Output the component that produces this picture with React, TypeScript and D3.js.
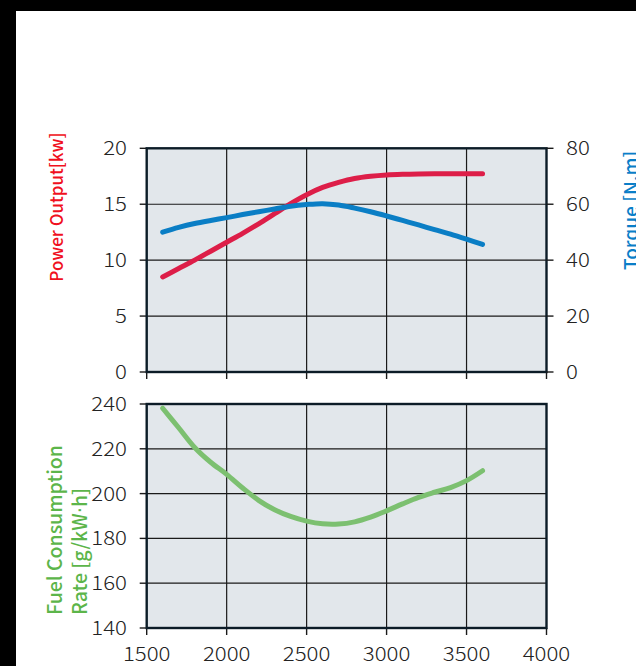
import React from "react";
import * as d3 from "d3";

const rpm = [1600,1700,1800,1900,2000,2100,2200,2300,2400,2500,2600,2700,2800,2900,3000,3100,3200,3300,3400,3500,3600];
const power = [8.5,9.25,10.0,10.8,11.6,12.4,13.25,14.15,15.05,15.85,16.5,16.95,17.3,17.5,17.62,17.68,17.71,17.72,17.72,17.72,17.72];
const torque = [50,51.7,53.1,54.2,55.2,56.3,57.3,58.3,59.3,59.9,60.2,59.7,58.6,57.3,55.8,54.2,52.6,50.9,49.3,47.5,45.6];
const fuel = [238.1,229.4,220.6,214,208.6,202.5,197,192.8,189.8,187.7,186.5,186.4,187.4,189.5,192.3,195.4,198.3,200.6,202.7,205.8,210.2];

const xTicks = [1500,2000,2500,3000,3500,4000];
const powerTicks = [0,5,10,15,20];
const torqueTicks = [0,20,40,60,80];
const fuelTicks = [140,160,180,200,220,240];

const W = 636, H = 666;
const FONT = "'Noto Sans CJK SC', 'Noto Sans', sans-serif";
const GRID = "#1a1a1a";
const BORDER = "#0c1c27";
const FILL = "#e2e7eb";

export default function App() {
  const x = d3.scaleLinear().domain([1500, 4000]).range([146.7, 546.5]);
  const yP = d3.scaleLinear().domain([0, 20]).range([372, 148.3]);
  const yT = d3.scaleLinear().domain([0, 80]).range([372, 148.3]);
  const yF = d3.scaleLinear().domain([140, 240]).range([628, 404]);

  const curve = d3.curveCatmullRom.alpha(0.5);
  const lineP = d3.line<number>().x((_, i) => x(rpm[i])).y((d) => yP(d)).curve(curve);
  const lineT = d3.line<number>().x((_, i) => x(rpm[i])).y((d) => yT(d)).curve(curve);
  const lineF = d3.line<number>().x((_, i) => x(rpm[i])).y((d) => yF(d)).curve(curve);

  const [x0, x1] = x.range();
  const tickText = (t: string, tx: number, ty: number, anchor: string, key: string) => (
    <text key={key} transform={`translate(${tx},${ty}) scale(1.17,1)`} textAnchor={anchor as any}
      fontFamily={FONT} fontSize={19} fontWeight={300} fill="#222">{t}</text>
  );

  const panel = (y: d3.ScaleLinear<number, number>, ticks: number[], key: string) => {
    const [yb, yt] = y.range();
    return (
      <g key={key}>
        <rect x={x0} y={yt} width={x1 - x0} height={yb - yt} fill={FILL} />
        {xTicks.slice(1, -1).map((v) => (
          <line key={"vx" + v} x1={x(v)} x2={x(v)} y1={yt} y2={yb} stroke={GRID} strokeWidth={1.2} />
        ))}
        {ticks.slice(1, -1).map((v) => (
          <line key={"hy" + v} x1={x0} x2={x1} y1={y(v)} y2={y(v)} stroke={GRID} strokeWidth={1.2} />
        ))}
        {ticks.map((v) => (
          <line key={"lt" + v} x1={x0 - 7} x2={x0} y1={y(v)} y2={y(v)} stroke={GRID} strokeWidth={1.4} />
        ))}
        {xTicks.map((v) => (
          <line key={"bt" + v} x1={x(v)} x2={x(v)} y1={yb} y2={yb + 7} stroke={GRID} strokeWidth={1.4} />
        ))}
        <rect x={x0} y={yt} width={x1 - x0} height={yb - yt} fill="none" stroke={BORDER} strokeWidth={2.4} />
      </g>
    );
  };

  return (
    <svg width={W} height={H} style={{ position: "absolute", left: 0, top: 0, background: "#fff" }}>
      <rect x={0} y={0} width={W} height={11} fill="#000" />
      <rect x={0} y={0} width={16} height={H} fill="#000" />

      {panel(yP, powerTicks, "top")}
      {torqueTicks.map((v) => (
        <line key={"rt" + v} x1={x1} x2={x1 + 7} y1={yT(v)} y2={yT(v)} stroke={GRID} strokeWidth={1.4} />
      ))}
      {panel(yF, fuelTicks, "bottom")}

      <path d={lineP(power) || ""} fill="none" stroke="#dd1e48" strokeWidth={5} strokeLinecap="round" />
      <path d={lineT(torque) || ""} fill="none" stroke="#0a7ec5" strokeWidth={5} strokeLinecap="round" />
      <path d={lineF(fuel) || ""} fill="none" stroke="#7cc070" strokeWidth={5} strokeLinecap="round" />

      {powerTicks.map((v) => tickText(String(v), 127, yP(v) + 7, "end", "pl" + v))}
      {torqueTicks.map((v) => tickText(String(v), 566, yT(v) + 7, "start", "tl" + v))}
      {fuelTicks.map((v) => tickText(String(v), 127, yF(v) + 7, "end", "fl" + v))}
      {xTicks.map((v) => tickText(String(v), x(v), 661, "middle", "xl" + v))}

      <text transform="translate(63,207) rotate(-90)" textAnchor="middle" fontFamily={FONT}
        fontSize={17} fontWeight={500} fill="#f01020">Power Output[kw]</text>
      <text transform="translate(638,270) rotate(-90)" textAnchor="start" fontFamily={FONT}
        fontSize={19} fontWeight={500} fill="#0a7ec8">Torque [N.m]</text>
      <text transform="translate(62,615) rotate(-90)" textAnchor="start" fontFamily={FONT}
        fontSize={19.5} fontWeight={500} fill="#5cb54a">Fuel Consumption</text>
      <text transform="translate(87,615) rotate(-90)" textAnchor="start" fontFamily={FONT}
        fontSize={19.5} fontWeight={500} fill="#5cb54a">Rate [g/kW<tspan fontFamily="'DejaVu Sans', sans-serif">·</tspan>h]</text>
    </svg>
  );
}
